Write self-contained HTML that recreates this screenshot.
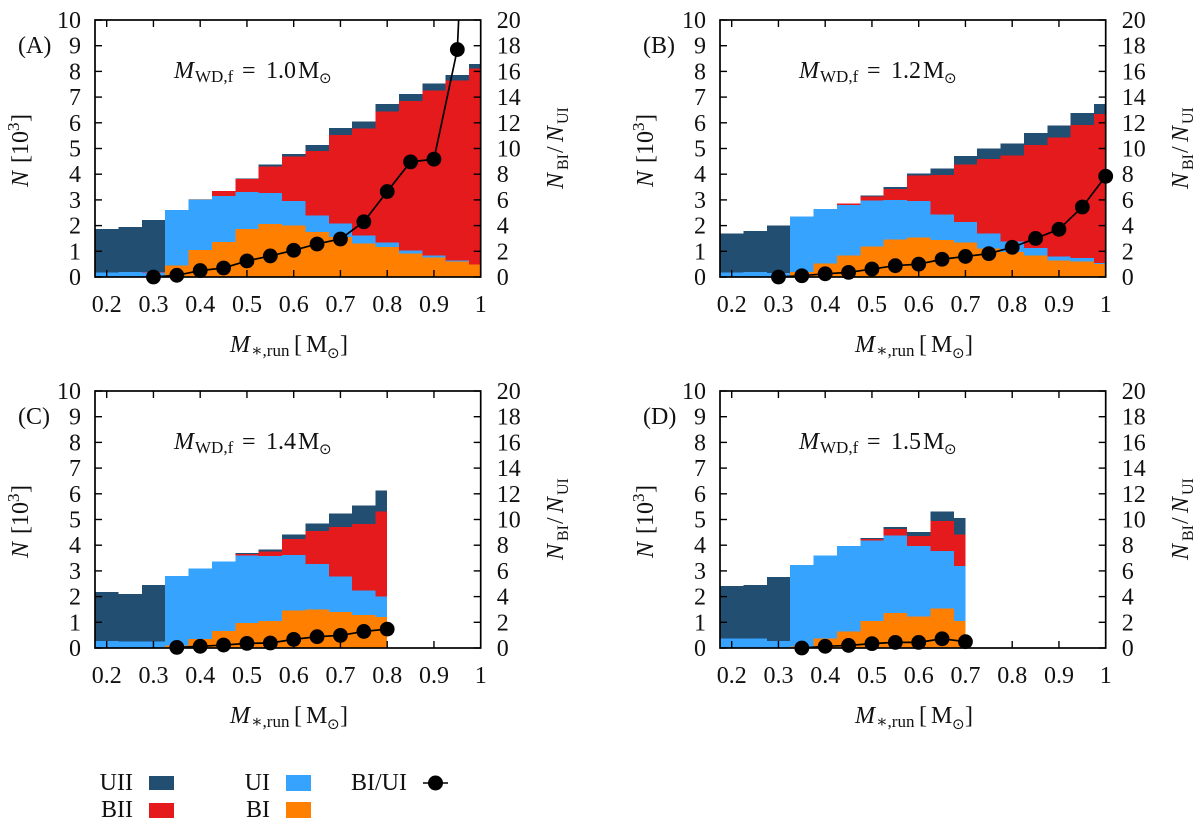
<!DOCTYPE html>
<html lang="en">
<head>
<meta charset="utf-8">
<title>Stacked histograms of N versus M*,run</title>
<style>
  html, body { margin: 0; padding: 0; background: #fff; }
  svg { display: block; }
  text { font-family: "Liberation Serif", "DejaVu Serif", serif; fill: #111; }
  .it { font-style: italic; }
  .sun { font-family: "DejaVu Sans", sans-serif; }
</style>
</head>
<body>
<svg id="figure" xmlns="http://www.w3.org/2000/svg" width="1200" height="827" viewBox="0 0 1200 827">
  <g id="panels"></g>
  <g>
    <text x="133" y="790" font-size="24" text-anchor="end">UII</text>
    <rect x="149" y="776" width="25" height="14" fill="#224e72"></rect>
    <text x="133" y="817" font-size="24" text-anchor="end">BII</text>
    <rect x="149" y="803" width="25" height="15" fill="#e41a1c"></rect>
    <text x="270" y="790" font-size="24" text-anchor="end">UI</text>
    <rect x="286" y="775" width="25" height="16" fill="#36a3ff"></rect>
    <text x="270" y="817" font-size="24" text-anchor="end">BI</text>
    <rect x="286" y="802" width="25" height="16" fill="#ff7f00"></rect>
    <text x="407" y="790" font-size="24" text-anchor="end">BI/UI</text>
    <line x1="423" y1="783" x2="448" y2="783" stroke="#000" stroke-width="1.6"></line>
    <circle cx="435.5" cy="783" r="7.5" fill="#000"></circle>
  </g>
</svg>
<script>
// Shared axis data
const massBins = [0.2, 0.25, 0.3, 0.35, 0.4, 0.45, 0.5, 0.55, 0.6, 0.65, 0.7, 0.75, 0.8, 0.85, 0.9, 0.95, 1.0];
const xTickValues = [0.2, 0.3, 0.4, 0.5, 0.6, 0.7, 0.8, 0.9, 1];
const xTickLabels = ["0.2", "0.3", "0.4", "0.5", "0.6", "0.7", "0.8", "0.9", "1"];
const yTickValues = [0, 1, 2, 3, 4, 5, 6, 7, 8, 9, 10];
const y2TickValues = [0, 2, 4, 6, 8, 10, 12, 14, 16, 18, 20];

// Panel A: cumulative stack tops (10^3) and ratio
const panelAUii = [1.86, 1.94, 2.22, 2.6, 3.01, 3.35, 3.83, 4.38, 4.79, 5.14, 5.79, 6.05, 6.73, 7.13, 7.53, 7.86, 8.29];
const panelABii = [0, 0, 0.2, 2.6, 3.0, 3.35, 3.82, 4.29, 4.68, 4.9, 5.52, 5.77, 6.44, 6.84, 7.25, 7.64, 8.12];
const panelAUi = [0.17, 0.19, 0.17, 2.6, 2.99, 3.16, 3.3, 3.27, 2.95, 2.4, 2.09, 1.61, 1.35, 1.04, 0.83, 0.65, 0.48];
const panelABi = [0, 0, 0, 0.44, 1.06, 1.36, 1.86, 2.06, 2.0, 1.75, 1.56, 1.31, 1.16, 0.92, 0.75, 0.61, 0.48];
const panelARatio = [null, null, 0, 0.13, 0.5, 0.7, 1.25, 1.64, 2.08, 2.57, 2.96, 4.3, 6.65, 8.96, 9.17, 17.7, 58];

// Panel B
const panelBUii = [1.69, 1.79, 2.0, 2.35, 2.65, 2.86, 3.17, 3.5, 4.03, 4.22, 4.71, 5.0, 5.19, 5.61, 5.9, 6.39, 6.73];
const panelBBii = [0, 0, 0, 2.35, 2.65, 2.86, 3.14, 3.43, 3.94, 3.97, 4.38, 4.6, 4.73, 5.13, 5.42, 5.91, 6.34];
const panelBUi = [0.17, 0.2, 0.16, 2.35, 2.65, 2.8, 2.97, 3.0, 2.95, 2.43, 2.14, 1.7, 1.38, 1.12, 0.79, 0.74, 0.55];
const panelBBi = [0, 0, 0, 0.2, 0.52, 0.83, 1.19, 1.45, 1.53, 1.44, 1.35, 1.1, 0.97, 0.83, 0.65, 0.61, 0.5];
const panelBRatio = [null, null, 0, 0.1, 0.25, 0.36, 0.62, 0.88, 1.0, 1.38, 1.6, 1.82, 2.31, 3.0, 3.71, 5.45, 7.84];

// Panel C
const panelCUii = [2.17, 2.1, 2.46, 2.81, 3.1, 3.36, 3.69, 3.84, 4.41, 4.85, 5.23, 5.55, 6.13];
const panelCBii = [0, 0, 0, 2.81, 3.1, 3.36, 3.66, 3.76, 4.24, 4.55, 4.71, 4.83, 5.32];
const panelCUi = [0.28, 0.26, 0.25, 2.81, 3.1, 3.36, 3.6, 3.58, 3.62, 3.26, 2.78, 2.24, 2.0];
const panelCBi = [0, 0, 0, 0.09, 0.35, 0.67, 0.98, 1.06, 1.45, 1.49, 1.41, 1.28, 1.2];
const panelCRatio = [null, null, null, 0.05, 0.13, 0.23, 0.36, 0.39, 0.67, 0.88, 0.98, 1.29, 1.47];

// Panel D
const panelDUii = [2.42, 2.46, 2.76, 3.23, 3.6, 3.96, 4.28, 4.71, 4.51, 5.32, 5.05];
const panelDBii = [0, 0, 0, 3.23, 3.6, 3.96, 4.24, 4.63, 4.36, 4.94, 4.41];
const panelDUi = [0.36, 0.36, 0.28, 3.23, 3.6, 3.96, 4.18, 4.37, 3.97, 3.78, 3.2];
const panelDBi = [0, 0, 0, 0.06, 0.36, 0.65, 1.05, 1.37, 1.23, 1.53, 1.06];
const panelDRatio = [null, null, null, 0, 0.13, 0.2, 0.34, 0.44, 0.44, 0.72, 0.49];

const panelTags = ["a", "b", "c", "d"];
const panelLetters = ["(A)", "(B)", "(C)", "(D)"];
const panelMasses = ["1.0", "1.2", "1.4", "1.5"];
const panelUii = [panelAUii, panelBUii, panelCUii, panelDUii];
const panelBii = [panelABii, panelBBii, panelCBii, panelDBii];
const panelUi = [panelAUi, panelBUi, panelCUi, panelDUi];
const panelBi = [panelABi, panelBBi, panelCBi, panelDBi];
const panelRatio = [panelARatio, panelBRatio, panelCRatio, panelDRatio];

const NS = "http://www.w3.org/2000/svg";
const PLOT_W = 385.7, PLOT_H = 257;
const X_MIN = 0.175, X_MAX = 1, Y_MAX = 10, Y2_MAX = 20, BIN_W = 0.05;

function mk(tag, parent, attrs, txt) {
  const el = document.createElementNS(NS, tag);
  for (const k in attrs) el.setAttribute(k, attrs[k]);
  if (txt !== undefined) el.textContent = txt;
  parent.appendChild(el);
  return el;
}

function drawBars(g, tag, series, values, color, xs, ys) {
  const lastMass = massBins[values.length - 1];
  values.forEach(function (v, i) {
    if (!v) return;
    const x0 = Math.max(xs(massBins[i] - BIN_W / 2), xs(X_MIN));
    const x1 = xs(Math.min(massBins[i] + BIN_W / 2, lastMass));
    const r = mk("rect", g, { x: x0, y: ys(v), width: x1 - x0, height: ys(0) - ys(v), fill: color, "shape-rendering": "crispEdges" });
    
    
  });
}

function drawPanel(idx) {
  const ox = idx % 2 === 0 ? 95 : 720;
  const oy = idx < 2 ? 20 : 391;
  const tag = panelTags[idx];
  const xs = function (v) { return ox + (v - X_MIN) / (X_MAX - X_MIN) * PLOT_W; };
  const ys = function (v) { return oy + PLOT_H - v / Y_MAX * PLOT_H; };
  const ys2 = function (v) { return oy + PLOT_H - v / Y2_MAX * PLOT_H; };

  const g = mk("g", document.getElementById("panels"), {});
  
  

  const cp = mk("clipPath", g, { id: "clip-" + tag });
  mk("rect", cp, { x: ox, y: oy, width: PLOT_W, height: PLOT_H });

  const bars = mk("g", g, {});
  
  
  drawBars(bars, tag, "uii", panelUii[idx], "#224e72", xs, ys);
  drawBars(bars, tag, "bii", panelBii[idx], "#e41a1c", xs, ys);
  drawBars(bars, tag, "ui", panelUi[idx], "#36a3ff", xs, ys);
  drawBars(bars, tag, "bi", panelBi[idx], "#ff7f00", xs, ys);

  // all ticks sit above the bars
  const ticks = mk("g", g, { stroke: "#000", "stroke-width": 1.4 });
  
  
  yTickValues.forEach(function (v) {
    mk("line", ticks, { x1: ox, x2: ox + 7, y1: ys(v), y2: ys(v) });
  });
  y2TickValues.forEach(function (v) {
    mk("line", ticks, { x1: ox + PLOT_W, x2: ox + PLOT_W - 7, y1: ys2(v), y2: ys2(v) });
  });
  xTickValues.forEach(function (v) {
    mk("line", ticks, { x1: xs(v), x2: xs(v), y1: oy + PLOT_H, y2: oy + PLOT_H - 7 });
    mk("line", ticks, { x1: xs(v), x2: xs(v), y1: oy, y2: oy + 7 });
  });

  // frame
  const frame = mk("rect", g, { x: ox, y: oy, width: PLOT_W, height: PLOT_H, fill: "none", stroke: "#000", "stroke-width": 1.7 });
  
  

  // ratio line (clipped) and markers
  const pts = [];
  panelRatio[idx].forEach(function (v, i) {
    if (v !== null) pts.push([xs(massBins[i]), ys2(v), v, massBins[i]]);
  });
  const line = mk("polyline", g, {
    points: pts.map(function (p) { return p[0].toFixed(2) + "," + p[1].toFixed(2); }).join(" "),
    fill: "none", stroke: "#000", "stroke-width": 1.7, "clip-path": "url(#clip-" + tag + ")"
  });
  
  
  pts.forEach(function (p) {
    if (p[2] > Y2_MAX) return;
    const c = mk("circle", g, { cx: p[0], cy: p[1], r: 7.4, fill: "#000" });
    
    
  });

  // tick labels
  xTickValues.forEach(function (v, i) {
    const t = mk("text", g, { x: xs(v), y: oy + PLOT_H + 35, "font-size": 24, "text-anchor": "middle" }, xTickLabels[i]);
    
    
  });
  yTickValues.forEach(function (v) {
    const t = mk("text", g, { x: ox - 14, y: ys(v) + 8, "font-size": 24, "text-anchor": "end" }, String(v));
    
    
  });
  y2TickValues.forEach(function (v) {
    const t = mk("text", g, { x: ox + PLOT_W + 16, y: ys2(v) + 8, "font-size": 24 }, String(v));
    
    
  });

  // panel letter
  const letter = mk("text", g, { x: ox - 77, y: oy + 33, "font-size": 24 }, panelLetters[idx]);
  
  

  // annotation
  const note = mk("g", g, {});
  
  
  const ay = oy + 58;
  mk("text", note, { x: ox + 79, y: ay, "font-size": 24, class: "it" }, "M");
  mk("text", note, { x: ox + 100, y: ay + 4, "font-size": 17 }, "WD,f");
  mk("text", note, { x: ox + 147, y: ay, "font-size": 24 }, "=");
  mk("text", note, { x: ox + 171, y: ay, "font-size": 24 }, panelMasses[idx]);
  mk("text", note, { x: ox + 203, y: ay, "font-size": 24 }, "M");
  mk("text", note, { x: ox + 224, y: ay + 5, "font-size": 15, class: "sun" }, "\u2299");

  // x axis title
  const xt = mk("g", g, {});
  
  
  const bx = ox + 135, by = oy + PLOT_H + 75;
  mk("text", xt, { x: bx, y: by, "font-size": 24, class: "it" }, "M");
  mk("text", xt, { x: bx + 21, y: by + 4, "font-size": 17 }, "\u2217,run");
  mk("text", xt, { x: bx + 64, y: by, "font-size": 24 }, "[");
  mk("text", xt, { x: bx + 76, y: by, "font-size": 24 }, "M");
  mk("text", xt, { x: bx + 97, y: by + 6, "font-size": 15, class: "sun" }, "\u2299");
  mk("text", xt, { x: bx + 110, y: by, "font-size": 24 }, "]");

  // y axis title
  const yx = ox - 67, yy = oy + 167;
  const yt = mk("g", g, { transform: "translate(" + yx + " " + yy + ") rotate(-90)" });
  
  
  mk("text", yt, { x: 0, y: 0, "font-size": 24, class: "it" }, "N");
  mk("text", yt, { x: 24, y: 0, "font-size": 24 }, "[10");
  mk("text", yt, { x: 56, y: -9, "font-size": 17 }, "3");
  mk("text", yt, { x: 65, y: 0, "font-size": 24 }, "]");

  // right axis title
  const rx = ox + 468, ry = oy + 169;
  const rt = mk("g", g, { transform: "translate(" + rx + " " + ry + ") rotate(-90)" });
  
  
  mk("text", rt, { x: 0, y: 0, "font-size": 24, class: "it" }, "N");
  mk("text", rt, { x: 19, y: 5, "font-size": 16 }, "BI");
  mk("text", rt, { x: 36, y: 0, "font-size": 24 }, "/");
  mk("text", rt, { x: 47, y: 0, "font-size": 24, class: "it" }, "N");
  mk("text", rt, { x: 65, y: 5, "font-size": 16 }, "UI");
}

panelTags.forEach(function (t, i) { drawPanel(i); });
</script>
</body>
</html>
